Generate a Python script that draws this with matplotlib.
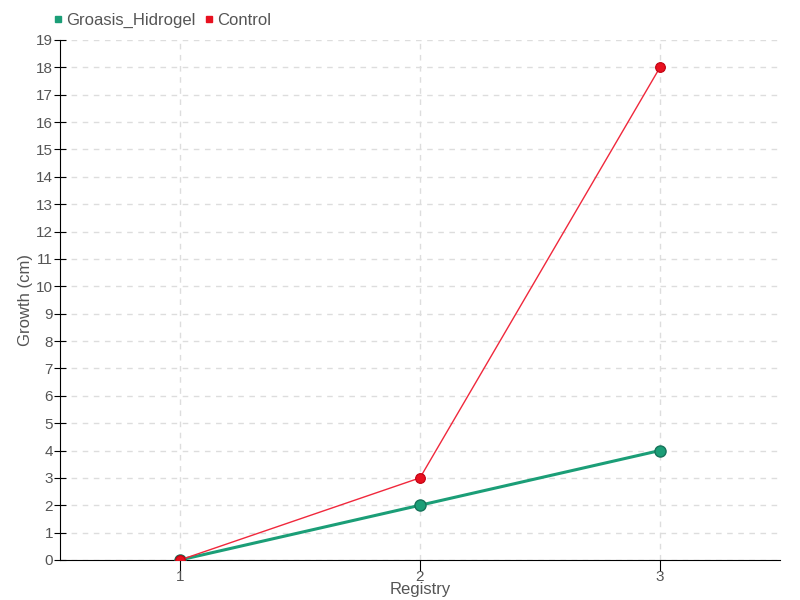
import matplotlib
matplotlib.use('Agg')
import matplotlib.pyplot as plt
from matplotlib.lines import Line2D

plt.rcParams['font.family'] = ['Liberation Sans', 'DejaVu Sans']

registry = [1, 2, 3]
hidrogel = [0, 2, 4]
control = [0, 3, 18]
names = ['Groasis_Hidrogel', 'Control']

fig = plt.figure(figsize=(8, 6), dpi=100)
ax = fig.add_axes([0.075, 0.0667, 0.9, 0.8667])

ax.plot(registry, hidrogel, color='#1b9e77', lw=2.2, marker='o', markersize=8,
        markerfacecolor='#1b9e77', markeredgecolor='#16735a', markeredgewidth=1, zorder=3)
ax.plot(registry, control, color='#f0283c', lw=1, marker='o', markersize=7,
        markerfacecolor='#e8101f', markeredgecolor='#c00010', markeredgewidth=0.8, zorder=4)

ax.set_xlim(0.5, 3.5)
ax.set_ylim(0, 19)
ax.set_xticks(registry)
ax.set_yticks(range(0, 20))
ax.grid(True, color='#dddddd', linestyle=(0, (4, 4)), lw=1)
ax.spines['top'].set_visible(False)
ax.spines['right'].set_visible(False)
ax.tick_params(axis='y', direction='inout', length=8, labelsize=11, labelcolor='#555555', pad=1)
ax.tick_params(axis='x', direction='out', length=8, labelsize=11, labelcolor='#555555', pad=-1)
ax.set_xlabel('Registry', fontsize=12, color='#555555', labelpad=-1)
ax.set_ylabel('Growth (cm)', fontsize=12, color='#555555', labelpad=2)

handles = [Line2D([], [], marker='s', ls='', color='#1b9e77', markersize=5),
           Line2D([], [], marker='s', ls='', color='#e8101f', markersize=5)]
fig.legend(handles, names, loc='upper left', bbox_to_anchor=(0.045, 1.003), ncol=2,
           frameon=False, fontsize=12, handletextpad=0.1, columnspacing=0.4,
           labelcolor='#555555', handlelength=0.8)

fig.savefig('out.png', dpi=100)
